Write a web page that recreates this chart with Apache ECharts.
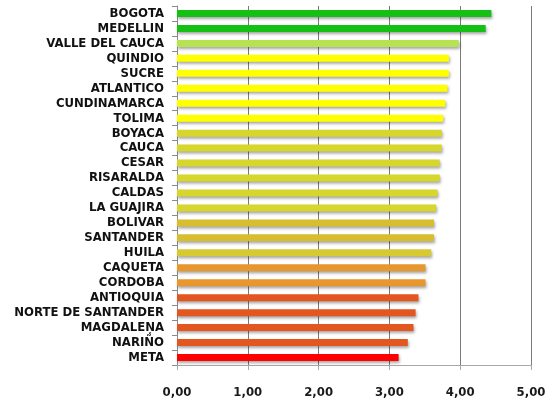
<!DOCTYPE html>
<html>
<head>
<meta charset="utf-8">
<script src="https://cdn.jsdelivr.net/npm/echarts@6/dist/echarts.min.js"></script>
<style>html,body{margin:0;padding:0;background:#fff;}#c{width:549px;height:402px;}</style>
</head>
<body>
<div id="c"></div>
<script>
const categories = ['BOGOTA','MEDELLIN','VALLE DEL CAUCA','QUINDIO','SUCRE','ATLANTICO','CUNDINAMARCA','TOLIMA','BOYACA','CAUCA','CESAR','RISARALDA','CALDAS','LA GUAJIRA','BOLIVAR','SANTANDER','HUILA','CAQUETA','CORDOBA','ANTIOQUIA','NORTE DE SANTANDER','MAGDALEŅA','NARIÑO','META'];
const values = [4.44,4.36,3.98,3.84,3.84,3.82,3.79,3.76,3.74,3.74,3.71,3.71,3.68,3.66,3.63,3.63,3.59,3.51,3.51,3.41,3.37,3.34,3.26,3.13];
const barColors = ['#14C014','#14C014','#B6E351','#FFFF00','#FFFF00','#FFFF00','#FFFF00','#FFFF00','#D6D62C','#D6D62C','#D6D62C','#D6D62C','#D6D62C','#D6D62C','#D8BE2E','#D8BE2E','#D6CA30','#E8962E','#E8962E','#E4561F','#E4561F','#E4561F','#E4561F','#FF0000'];
const xTickLabels = ['0,00','1,00','2,00','3,00','4,00','5,00'];

const chart = echarts.init(document.getElementById('c'), null, {renderer:'canvas'});
const fontFam = '"Liberation Sans Narrow", "DejaVu Sans Condensed", "Liberation Sans", sans-serif';
chart.setOption({
  animation: false,
  backgroundColor: '#ffffff',
  grid: {left: 177, right: 18, top: 6, bottom: 37, containLabel: false},
  xAxis: {
    type: 'value', min: 0, max: 5, interval: 1,
    axisLine: {show: true, lineStyle: {color: '#a8a8a8', width: 1}},
    axisTick: {show: true, length: 5, lineStyle: {color: '#a8a8a8'}},
    axisLabel: {margin: 21, color: '#1a1a1a', fontSize: 13, fontFamily: fontFam, fontWeight: 'bold',
      formatter: function (v, i) { return xTickLabels[Math.round(v)]; }},
    splitLine: {show: true, showMinLine: false, showMaxLine: true, lineStyle: {color: ['#7a7a7a','#7a7a7a','#7a7a7a','#7a7a7a','#7a7a7a','#b4b4b4'], width: 1}}
  },
  yAxis: {
    type: 'category', data: categories, inverse: true,
    axisLine: {show: true, lineStyle: {color: '#8a8a8a', width: 1}},
    axisTick: {show: true, length: 5, alignWithLabel: false, interval: 0, lineStyle: {color: '#8a8a8a'}},
    axisLabel: {interval: 0, margin: 13, color: '#111', fontSize: 13, fontFamily: fontFam, fontWeight: 'bold'},
    splitLine: {show: false}
  },
  series: [{
    type: 'bar',
    data: values.map((v, i) => ({value: v, itemStyle: {color: barColors[i]}})),
    barWidth: 7,
    itemStyle: {shadowColor: 'rgba(0,0,0,0.35)', shadowBlur: 3, shadowOffsetX: 1, shadowOffsetY: 2}
  }]
});
</script>
</body>
</html>
